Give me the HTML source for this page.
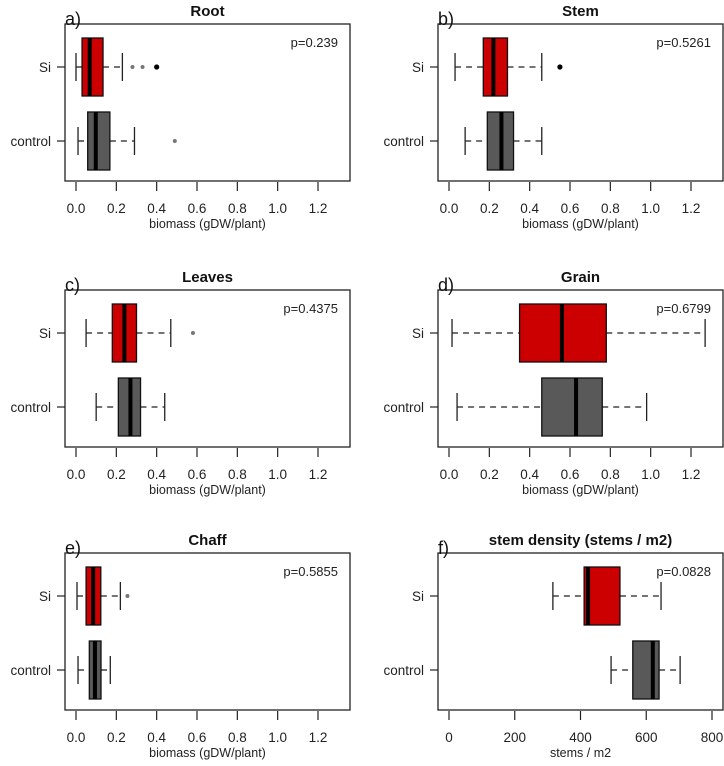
<!DOCTYPE html>
<html><head><meta charset="utf-8"><style>
html,body{margin:0;padding:0;background:#fff;}
svg{display:block;font-family:"Liberation Sans",Arial,sans-serif;}
</style></head><body>
<svg id="chart" width="724" height="766" viewBox="0 0 724 766" xmlns="http://www.w3.org/2000/svg"></svg>
<script>
// Panel metadata
const panelLetters = ["a)","b)","c)","d)","e)","f)"];
const panelTitles = ["Root","Stem","Leaves","Grain","Chaff","stem density (stems / m2)"];
const pValues = ["p=0.239","p=0.5261","p=0.4375","p=0.6799","p=0.5855","p=0.0828"];
const groups = ["Si","control"];
const biomassTicks = [0,0.2,0.4,0.6,0.8,1.0,1.2];
const biomassTickLabels = ["0.0","0.2","0.4","0.6","0.8","1.0","1.2"];
const densityTicks = [0,200,400,600,800];
const densityTickLabels = ["0","200","400","600","800"];
// stats: [whiskerLow, Q1, median, Q3, whiskerHigh]
const siStats = [
  [0.0,0.03,0.068,0.134,0.23],
  [0.03,0.17,0.22,0.29,0.46],
  [0.05,0.18,0.24,0.30,0.47],
  [0.015,0.35,0.56,0.78,1.27],
  [0.005,0.05,0.085,0.123,0.22],
  [316,411,423,520,645]
];
const controlStats = [
  [0.01,0.058,0.098,0.168,0.29],
  [0.08,0.19,0.26,0.32,0.46],
  [0.10,0.21,0.27,0.32,0.44],
  [0.04,0.46,0.63,0.76,0.98],
  [0.01,0.066,0.094,0.124,0.17],
  [493,559,620,639,703]
];
const siOutliers = [[0.28,0.33,0.40],[0.55],[0.58],[],[0.255],[]];
const siOutlierDark = [[false,false,true],[true],[false],[],[false],[]];
const controlOutliers = [[0.49],[],[],[],[],[]];

const svg = document.getElementById('chart');
const NS = "http://www.w3.org/2000/svg";
function mk(tag, attrs, parent){
  const e = document.createElementNS(NS, tag);
  for (const k in attrs) e.setAttribute(k, attrs[k]);
  (parent||svg).appendChild(e);
  return e;
}
const colLeft = [65, 438];
const frameW = 285;
const rowTop = [24, 290, 553];
const frameH = 157;

for (let p = 0; p < 6; p++) {
  const col = p % 2, row = Math.floor(p / 2);
  const fx = colLeft[col], fy = rowTop[row];
  const isDensity = p === 5;
  const x0 = fx + 11;
  const scale = isDensity ? (263 / 800) : (242 / 1.2);
  const X = v => x0 + v * scale;
  const g = mk('g', {});
  
  

  const fr = mk('rect', {x: fx, y: fy, width: frameW, height: frameH, fill: 'none', stroke: '#222', 'stroke-width': 1.3}, g);
  
  

  const t = mk('text', {x: fx + frameW / 2, y: fy - 8, 'text-anchor': 'middle', 'font-size': 15, 'font-weight': 'bold', fill: '#111'}, g);
  t.textContent = panelTitles[p];
  
  

  const l = mk('text', {x: fx, y: fy + 1, 'font-size': 18, fill: '#111'}, g);
  l.textContent = panelLetters[p];
  
  

  const pv = mk('text', {x: fx + frameW - 12, y: fy + 23, 'text-anchor': 'end', 'font-size': 13, fill: '#222'}, g);
  pv.textContent = pValues[p];
  
  

  const ticks = isDensity ? densityTicks : biomassTicks;
  const tl = isDensity ? densityTickLabels : biomassTickLabels;
  const ay = fy + frameH + 1;
  ticks.forEach((v, i) => {
    const tk = mk('line', {x1: X(v), x2: X(v), y1: ay, y2: ay + 9, stroke: '#222', 'stroke-width': 1.2}, g);
    
    
    const tt = mk('text', {x: X(v), y: ay + 31, 'text-anchor': 'middle', 'font-size': 13.5, fill: '#222'}, g);
    tt.textContent = tl[i];
    
    
  });
  const xt = mk('text', {x: fx + frameW / 2, y: ay + 46, 'text-anchor': 'middle', 'font-size': 12.5, fill: '#222'}, g);
  xt.textContent = isDensity ? 'stems / m2' : 'biomass (gDW/plant)';
  
  

  const sets = [siStats[p], controlStats[p]];
  const outs = [siOutliers[p], controlOutliers[p]];
  const fills = ['#cc0000', '#595959'];
  groups.forEach((gname, gi) => {
    const cy = fy + (gi === 0 ? 43 : 117);
    const yt = mk('line', {x1: fx - 8, x2: fx, y1: cy, y2: cy, stroke: '#222', 'stroke-width': 1.2}, g);
    
    
    const yl = mk('text', {x: fx - 14, y: cy + 5, 'text-anchor': 'end', 'font-size': 13.5, fill: '#222'}, g);
    yl.textContent = gname;
    
    

    const s = sets[gi];
    const h = 29;
    const w1 = mk('line', {x1: X(s[0]), x2: X(s[1]), y1: cy, y2: cy, stroke: '#222', 'stroke-width': 1.3, 'stroke-dasharray': '6,5'}, g);
    
    
    const w2 = mk('line', {x1: X(s[3]), x2: X(s[4]), y1: cy, y2: cy, stroke: '#222', 'stroke-width': 1.3, 'stroke-dasharray': '6,5'}, g);
    
    
    [s[0], s[4]].forEach(v => {
      const c = mk('line', {x1: X(v), x2: X(v), y1: cy - 14, y2: cy + 14, stroke: '#222', 'stroke-width': 1.3}, g);
      
      
    });
    const b = mk('rect', {x: X(s[1]), y: cy - h, width: X(s[3]) - X(s[1]), height: 2 * h, fill: fills[gi], stroke: '#111', 'stroke-width': 1.3}, g);
    
    
    const m = mk('line', {x1: X(s[2]), x2: X(s[2]), y1: cy - h, y2: cy + h, stroke: '#000', 'stroke-width': 4}, g);
    
    
    outs[gi].forEach((v, oi) => {
      const dark = gi === 0 && siOutlierDark[p][oi];
      const o = mk('circle', {cx: X(v), cy: cy, r: dark ? 2.6 : 2, fill: dark ? '#000' : '#777'}, g);
      
      
    });
  });
}
</script>
</body></html>
